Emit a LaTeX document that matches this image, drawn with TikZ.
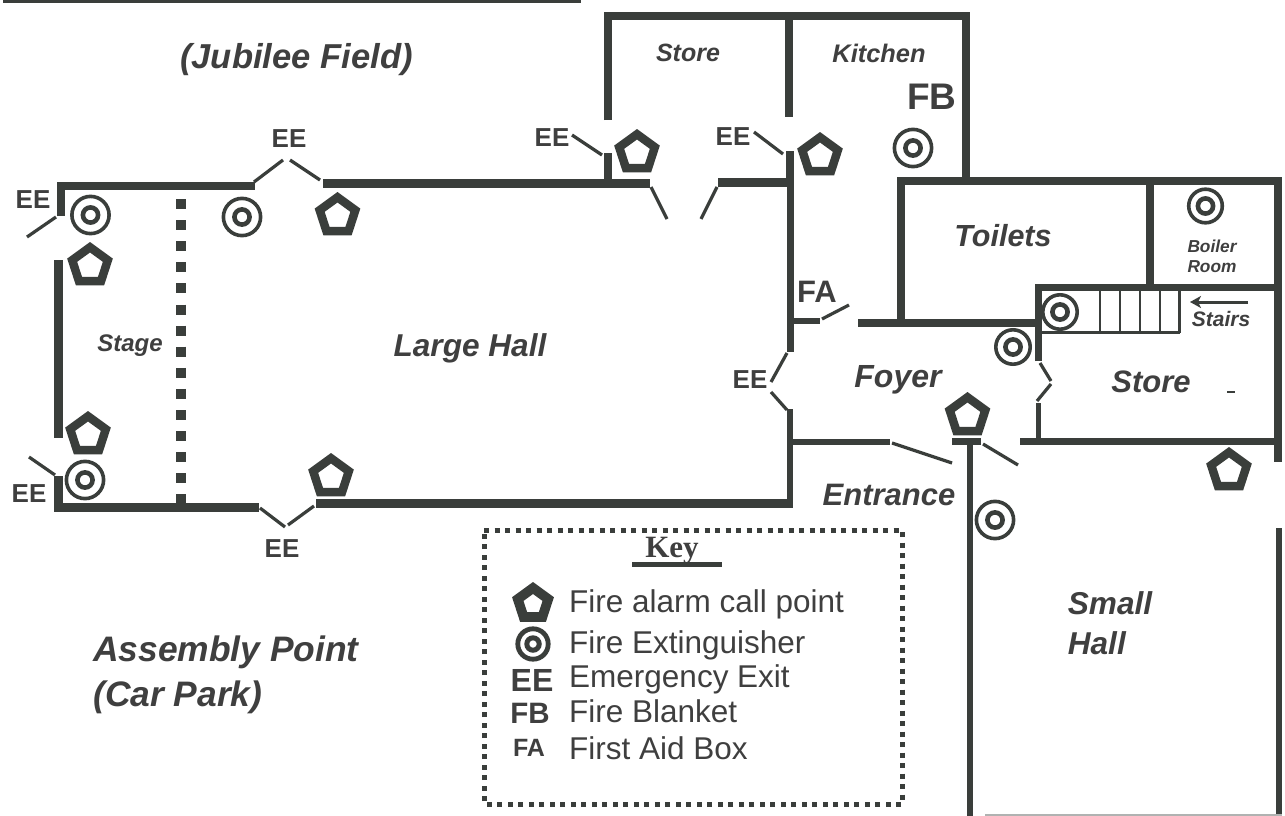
\documentclass[tikz,border=0pt]{standalone}
\usepackage{fontspec}
\usetikzlibrary{arrows.meta}
\setmainfont{Liberation Sans}
\newfontfamily\keyserif{Liberation Serif}
\definecolor{ink}{HTML}{3A3E3B}
\definecolor{inktext}{HTML}{3F3F3F}
\newcommand{\sz}[2]{\fontsize{#1}{#2}\selectfont}
\tikzset{
  wall/.style={draw=ink,line width=#1,line cap=butt,line join=miter},
  wall/.default=8pt,
  door/.style={draw=ink,line width=3.2pt,line cap=butt},
  stair/.style={draw=ink,line width=2.4pt},
  room/.style={text=inktext,inner sep=0pt,font=\bfseries\itshape\sz{#1}{#1}},
  code/.style={text=inktext,inner sep=0pt,font=\bfseries\sz{#1}{#1}},
  keytext/.style={text=inktext,inner sep=0pt,anchor=base west,font=\sz{31.5}{32}},
  alarmpt/.pic={
    \fill[ink,even odd rule] (90:24pt)--(162:24pt)--(234:24pt)--(306:24pt)--(18:24pt)--cycle
      (90:13.5pt)--(162:13.5pt)--(234:13.5pt)--(306:13.5pt)--(18:13.5pt)--cycle;
  },
  keyalarm/.pic={
    \fill[ink,even odd rule] (90:22pt)--(162:22pt)--(234:22pt)--(306:22pt)--(18:22pt)--cycle
      (90:10pt)--(162:10pt)--(234:10pt)--(306:10pt)--(18:10pt)--cycle;
  },
  exting/.pic={
    \draw[ink,line width=3.6pt] (0,0) circle[radius=#1];
    \draw[ink,line width=4.6pt] (0,0) circle[radius=7.6pt];
  },
  keyexting/.pic={
    \draw[ink,line width=4.8pt] (0,0) circle[radius=15.2pt];
    \draw[ink,line width=5pt] (0,0) circle[radius=6.2pt];
  }
}
\begin{document}
\begin{tikzpicture}[x=1pt,y=-1pt]
\useasboundingbox (0,0) rectangle (1285,816);
\fill[white] (0,0) rectangle (1285,816);
% top rule
\draw[wall=4pt] (3,1.5) -- (581,1.5);
% large hall and stage
\draw[wall] (61,216) -- (61,185.5) -- (255,185.5);
\draw[door] (56,217) -- (27,237);
\draw[wall=9pt] (58.5,260) -- (58.5,438);
\draw[wall=9pt] (58,476) -- (58,507.5) -- (259,507.5);
\draw[door] (29,457) -- (55,475);
\draw[door] (254,182) -- (283,160);
\draw[door] (290,160) -- (320,180);
\draw[door] (260,508) -- (285,527);
\draw[door] (288,525) -- (314,506);
\draw[wall=9pt] (323,183.5) -- (650,183.5);
\draw[wall=9pt] (316,503) -- (793,503);
\draw[ink,line width=9.5pt,dash pattern=on 10pt off 11.1pt] (181,199) -- (181,505);
% store and kitchen
\draw[wall] (608,120) -- (608,16.5) -- (966,16.5) -- (966,181);
\draw[wall] (789,16.5) -- (789,117);
\draw[wall] (608,153) -- (608,184);
\draw[door] (602,155) -- (572,135);
\draw[door] (783,154) -- (754,132);
\draw[door] (651,187) -- (667,219);
\draw[door] (717,187) -- (701,219);
\draw[wall=9pt] (718,182.5) -- (794,182.5);
\draw[wall] (790,151) -- (790,183);
\draw[wall=6.5pt] (790.5,182) -- (790.5,352);
\draw[door] (787,353) -- (771,382);
\draw[door] (771,392) -- (787,410);
\draw[wall=6.5pt] (790,409) -- (790,505);
% toilets and boiler room
\draw[wall] (900.5,323) -- (900.5,181) -- (1282,181);
\draw[wall] (1150,181) -- (1150,288);
\draw[wall=8pt] (1278,177) -- (1278,462);
\draw[wall=7pt] (1038.5,361) -- (1038.5,287.5) -- (1278,287.5);
\draw[wall] (858,323) -- (1039,323);
\draw[wall=6pt] (790,321) -- (820,321);
\draw[door] (822,319) -- (849,305);
% stairs
\draw[stair] (1042,332.5) -- (1180,332.5);
\foreach \sx in {1100,1120,1140,1160,1179.5}{
  \draw[stair] (\sx,291) -- (\sx,333);
}
\draw[-{Stealth[length=11pt,width=12pt,inset=3pt]},ink,line width=3pt] (1248,302) -- (1190,302);
% store, foyer and entrance
\draw[door] (1040,363) -- (1051,381);
\draw[door] (1051,384) -- (1037,401);
\draw[wall=5.5pt] (1038.5,403) -- (1038.5,441);
\draw[wall=7.5pt] (1020,441.5) -- (1278,441.5);
\draw[wall=6.5pt] (787,442) -- (890,442);
\draw[door] (892,443) -- (952,463);
\draw[wall=7pt] (952,441.5) -- (981,441.5);
\draw[wall=6pt] (970,445) -- (970,816);
\draw[door] (983,444) -- (1018,465);
\draw[wall=6pt] (1279,528) -- (1279,816);
\draw[ink!40,line width=1.2pt] (985,815) -- (1282,815);
\draw[ink,line width=1.6pt] (1227,392) -- (1235,392);
% alarm call points
\pic at (90,266) {alarmpt};
\pic at (88,435) {alarmpt};
\pic at (337.5,216) {alarmpt};
\pic at (331,477) {alarmpt};
\pic at (637,153) {alarmpt};
\pic at (820,156) {alarmpt};
\pic at (967.5,416) {alarmpt};
\pic at (1229,471) {alarmpt};
% extinguishers
\pic at (90.5,215) {exting=18.6pt};
\pic at (242,217) {exting=18.6pt};
\pic at (85,480) {exting=18.6pt};
\pic at (913,148) {exting=18.6pt};
\pic at (995,520) {exting=18.6pt};
\pic at (1205.5,206) {exting=16.8pt};
\pic at (1060,312) {exting=17.2pt};
\pic at (1013,347) {exting=17.2pt};
% exit and equipment codes
\node[code=26] (ee1) at (289,139) {EE};
\node[code=26] (ee2) at (33,200) {EE};
\node[code=26] (ee3) at (29,494) {EE};
\node[code=26] (ee4) at (282,549) {EE};
\node[code=26] (ee5) at (552,138) {EE};
\node[code=26] (ee6) at (733,137) {EE};
\node[code=26] (ee7) at (750,380) {EE};
\node[code=37] (fb) at (932,97) {FB};
\node[code=31] (fa) at (817,292) {FA};
% room names
\node[room=34.6] (jub) at (296.5,60) {(Jubilee Field)};
\node[room=25] (st1) at (688,53) {Store};
\node[room=25.4] (kit) at (879,53) {Kitchen};
\node[room=30.5] (toi) at (1003,236) {Toilets};
\node[room=17.3,align=center,font=\bfseries\itshape\sz{17.3}{20.5}] (boi) at (1212,256.5) {Boiler\\Room};
\node[room=21] (sta) at (1221,319) {Stairs};
\node[room=24] (stg) at (130,346) {Stage};
\node[room=31.6] (lh) at (470,348) {Large Hall};
\node[room=32] (foy) at (898,380) {Foyer};
\node[room=31] (st2) at (1151,382) {Store};
\node[room=31] (ent) at (889,495) {Entrance};
\node[room=31.6,align=left,font=\bfseries\itshape\sz{31.6}{40}] (sh) at (1110,623) {Small\\Hall};
\node[room=35.4,align=left,font=\bfseries\itshape\sz{35.4}{45}] (ap) at (226,675) {Assembly Point\\(Car Park)};
% key
\draw[ink,line width=5pt,dash pattern=on 5pt off 5.5pt] (484,530) -- (902,530) -- (902,804) -- (484,804) -- cycle;
\node[text=inktext,inner sep=0pt,font=\keyserif\bfseries\sz{31}{31}] (keytitle) at (672,551) {Key};
\draw[wall=5pt] (632,564) -- (722,564);
\pic at (533,604) {keyalarm};
\pic at (533,644) {keyexting};
\node[code=32] (kee) at (532,680) {EE};
\node[code=29.5] (kfb) at (530,713) {FB};
\node[code=25] (kfa) at (529,748) {FA};
\node[keytext] (k1) at (569,612) {Fire alarm call point};
\node[keytext] (k2) at (569,653) {Fire Extinguisher};
\node[keytext] (k3) at (569,687) {Emergency Exit};
\node[keytext] (k4) at (569,722) {Fire Blanket};
\node[keytext] (k5) at (569,759) {First Aid Box};
\end{tikzpicture}
\end{document}
